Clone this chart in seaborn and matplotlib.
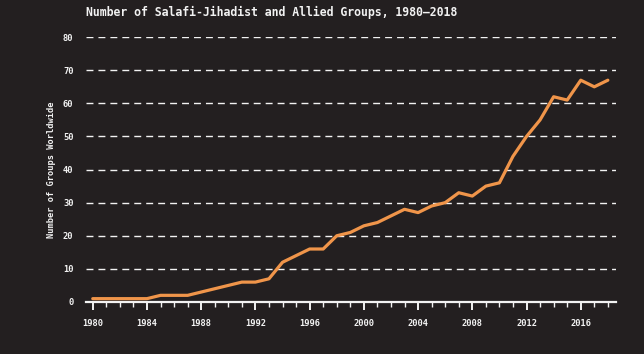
import pandas as pd
import matplotlib
matplotlib.use('Agg')
import matplotlib.pyplot as plt
from matplotlib.ticker import MultipleLocator
import seaborn as sns

# Data
years = list(range(1980, 2019))
groups = [1, 1, 1, 1, 1, 2, 2, 2, 3, 4,
          5, 6, 6, 7, 12, 14, 16, 16, 20, 21,
          23, 24, 26, 28, 27, 29, 30, 33, 32, 35,
          36, 44, 50, 55, 62, 61, 67, 65, 67]
year_ticks = list(range(1980, 2017, 4))
y_ticks = list(range(0, 81, 10))

df = pd.DataFrame({'Year': years, 'Groups': groups})

bg = '#231f20'
fg = '#f2f2f2'
line_color = '#f0954a'

sns.set_theme(style='dark', rc={'axes.facecolor': bg, 'figure.facecolor': bg})
plt.rcParams['font.family'] = ['DejaVu Sans Mono']

fig = plt.figure(figsize=(6.44, 3.54), dpi=100)
ax = fig.add_axes([0.1335, 0.147, 0.823, 0.748])

sns.lineplot(data=df, x='Year', y='Groups', color=line_color, linewidth=2.3, ax=ax,
             zorder=3, clip_on=False)

ax.set_xlim(1979.5, 2018.6)
ax.set_ylim(0, 80)
ax.set_xticks(year_ticks)
ax.set_xticklabels([str(y) for y in year_ticks])
ax.xaxis.set_minor_locator(MultipleLocator(1))
ax.set_yticks(y_ticks)

for v in y_ticks[1:]:
    ax.axhline(v, color=fg, linewidth=1.0, dashes=(5, 3.6), zorder=1)

for side in ['top', 'right', 'left']:
    ax.spines[side].set_visible(False)
ax.spines['bottom'].set_color(fg)
ax.spines['bottom'].set_linewidth(1.6)

ax.tick_params(axis='x', which='major', colors=fg, length=6, width=1.4,
               labelsize=6.3, pad=6, bottom=True)
ax.tick_params(axis='x', which='minor', colors=fg, length=3.5, width=1.0, bottom=True)
ax.tick_params(axis='y', colors=fg, length=0, labelsize=6.3, pad=9)
for lbl in ax.get_xticklabels() + ax.get_yticklabels():
    lbl.set_fontweight('bold')

ax.set_xlabel('')
ax.set_ylabel('Number of Groups Worldwide', color=fg, fontsize=6.3,
              fontweight='bold', labelpad=5)
ax.grid(False)

fig.text(0.1335, 0.982, 'Number of Salafi-Jihadist and Allied Groups, 1980\u20132018',
         color=fg, fontsize=8.3, fontweight='bold', va='top', ha='left')

fig.savefig('out.png', dpi=100, facecolor=bg)
